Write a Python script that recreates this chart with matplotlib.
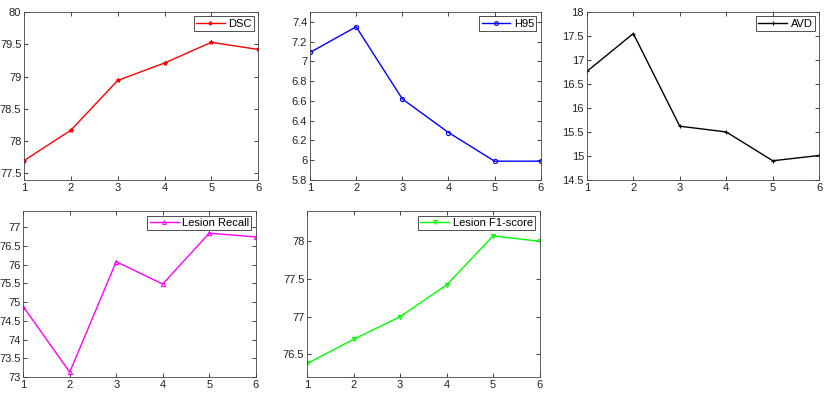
import matplotlib
matplotlib.use("Agg")
import matplotlib.pyplot as plt

plt.rcParams['font.family'] = ['Liberation Sans', 'DejaVu Sans']

# x positions shared by all panels
steps = [1, 2, 3, 4, 5, 6]

# metric values
dsc = [77.70, 78.17, 78.94, 79.21, 79.53, 79.42]
h95 = [7.09, 7.35, 6.62, 6.28, 5.99, 5.99]
avd = [16.76, 17.55, 15.62, 15.50, 14.90, 15.01]
recall = [74.88, 73.13, 76.08, 75.48, 76.84, 76.74]
f1 = [76.38, 76.70, 77.00, 77.42, 78.07, 78.00]

panels = [
    ("DSC", dsc, '#ff0000', '*', (77.4, 80), [77.5, 78, 78.5, 79, 79.5, 80]),
    ("H95", h95, '#0000ff', 'o', (5.8, 7.5), [5.8, 6, 6.2, 6.4, 6.6, 6.8, 7, 7.2, 7.4]),
    ("AVD", avd, '#000000', '+', (14.5, 18), [14.5, 15, 15.5, 16, 16.5, 17, 17.5, 18]),
    ("Lesion Recall", recall, '#ff00ff', '^', (73, 77.43), [73, 73.5, 74, 74.5, 75, 75.5, 76, 76.5, 77]),
    ("Lesion F1-score", f1, '#00ff00', 'v', (76.2, 78.4), [76.5, 77, 77.5, 78]),
]

# axes rectangles in figure fractions (left, bottom, width, height)
rects = [
    (0.029, 0.549, 0.282, 0.421),
    (0.3735, 0.549, 0.278, 0.421),
    (0.707, 0.549, 0.280, 0.421),
    (0.028, 0.055, 0.280, 0.416),
    (0.370, 0.055, 0.280, 0.416),
]

fig = plt.figure(figsize=(8.3, 3.99), dpi=100)

for (name, vals, color, marker, ylim, yticks), rect in zip(panels, rects):
    ax = fig.add_axes(rect)
    ax.plot(steps, vals, color=color, marker=marker, markersize=3,
            linewidth=1.0, markeredgewidth=0.8,
            fillstyle='none' if marker in 'o^v' else 'full', label=name)
    ax.set_xlim(1, 6)
    ax.set_ylim(*ylim)
    ax.set_xticks(steps)
    ax.set_yticks(yticks)
    ax.set_yticklabels([f"{t:g}" for t in yticks])
    ax.tick_params(direction='in', top=True, right=True, labelsize=8,
                   length=3, width=0.6, pad=2, colors='#222222')
    for sp in ax.spines.values():
        sp.set_linewidth(0.6)
        sp.set_color('#444444')
    leg = ax.legend(loc='upper right', fontsize=8, frameon=True, fancybox=False,
                    handlelength=2.6, handletextpad=0.3, borderpad=0.2,
                    borderaxespad=0.4, markerscale=0.9)
    leg.get_frame().set_edgecolor('black')
    leg.get_frame().set_linewidth(0.6)

fig.savefig("out.png", dpi=100)
